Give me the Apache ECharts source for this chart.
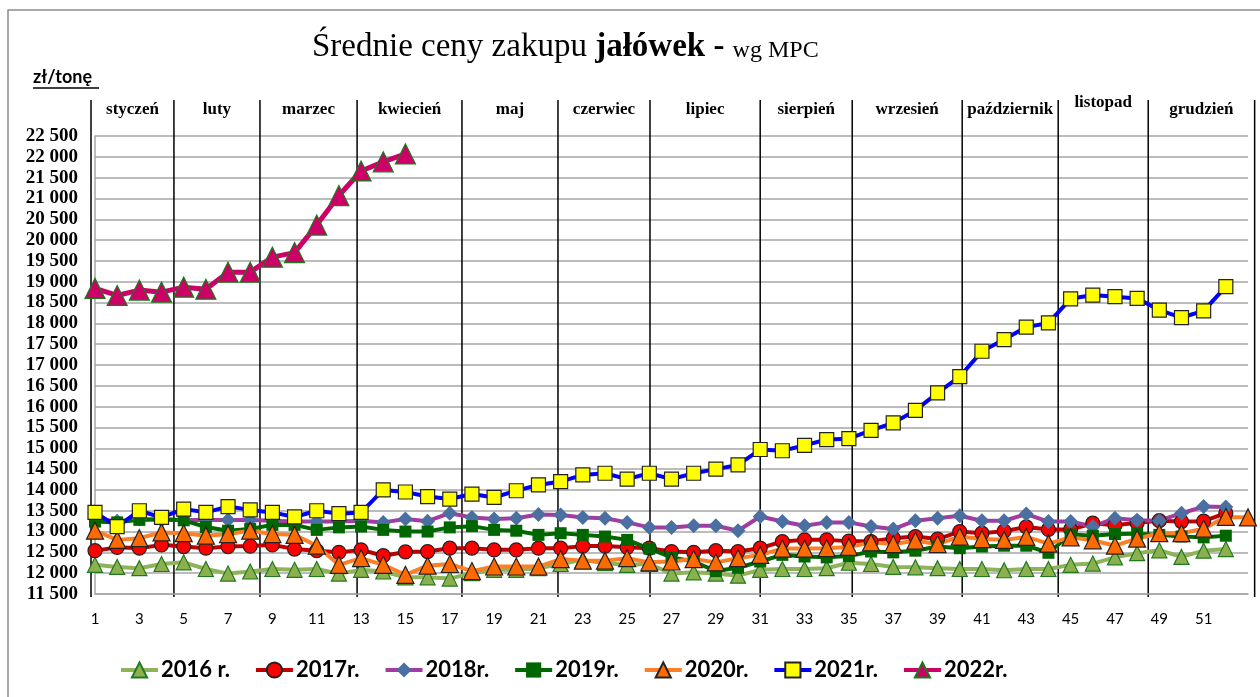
<!DOCTYPE html>
<html>
<head>
<meta charset="utf-8">
<script src="https://cdn.jsdelivr.net/npm/echarts@6/dist/echarts.min.js"></script>
<style>
  html, body { margin: 0; padding: 0; background: #fff; }
  #chart { width: 1260px; height: 697px; }
</style>
</head>
<body>
<div id="chart"></div>
<script>
// tygodnie 1..53
var weeks = [1, 2, 3, 4, 5, 6, 7, 8, 9, 10, 11, 12, 13, 14, 15, 16, 17, 18, 19, 20,
  21, 22, 23, 24, 25, 26, 27, 28, 29, 30, 31, 32, 33, 34, 35, 36, 37, 38, 39, 40,
  41, 42, 43, 44, 45, 46, 47, 48, 49, 50, 51, 52, 53]

var s2016 = [12200, 12150, 12120, 12220, 12260, 12100, 11990, 12040, 12100, 12080,
  12100, 11990, 12080, 12040, 11900, 11900, 11870, 12000, 12080, 12080,
  12120, 12220, 12320, 12240, 12200, 12220, 11990, 12020, 11990, 11940,
  12080, 12100, 12100, 12120, 12250, 12220, 12150, 12140, 12120, 12100,
  12100, 12070, 12100, 12100, 12200, 12230, 12380, 12480, 12550, 12390,
  12540, 12580]
var s2017 = [12540, 12620, 12600, 12680, 12640, 12600, 12640, 12650, 12680, 12580,
  12540, 12500, 12560, 12420, 12510, 12520, 12600, 12600, 12560, 12560,
  12600, 12600, 12650, 12650, 12620, 12600, 12520, 12500, 12540, 12520,
  12600, 12760, 12800, 12800, 12770, 12760, 12840, 12880, 12820, 13000,
  12960, 13010, 13110, 13050, 13050, 13200, 13150, 13210, 13260, 13240,
  13250, 13440]
var s2018 = [13300, 13250, 13300, 13280, 13280, 13280, 13280, 13280, 13260, 13240,
  13240, 13240, 13260, 13220, 13300, 13250, 13440, 13340, 13300, 13320,
  13410, 13400, 13340, 13320, 13220, 13100, 13100, 13140, 13140, 13020,
  13360, 13240, 13140, 13220, 13220, 13120, 13060, 13260, 13320, 13380,
  13260, 13260, 13420, 13240, 13240, 13120, 13320, 13270, 13260, 13440,
  13600, 13590]
var s2019 = [13240, 13220, 13280, 13300, 13270, 13110, 13020, 13060, 13160, 13160,
  13040, 13100, 13120, 13040, 13000, 13000, 13100, 13130, 13040, 13020,
  12920, 12960, 12920, 12880, 12800, 12590, 12380, 12280, 12050, 12130,
  12280, 12440, 12400, 12380, 12410, 12520, 12500, 12540, 12640, 12600,
  12640, 12660, 12660, 12490, 12930, 12900, 12940, 12950, 12920, 12880,
  12860, 12900]
var s2020 = [13020, 12800, 12840, 12980, 12960, 12900, 12940, 13020, 12940, 12920,
  12660, 12200, 12360, 12200, 11960, 12180, 12220, 12050, 12160, 12160,
  12160, 12340, 12300, 12300, 12360, 12260, 12280, 12340, 12260, 12360,
  12440, 12590, 12590, 12600, 12630, 12740, 12700, 12780, 12700, 12880,
  12820, 12800, 12870, 12710, 12860, 12790, 12660, 12830, 12960, 12960,
  13070, 13350, 13340]
var s2021 = [13460, 13120, 13500, 13340, 13540, 13460, 13600, 13520, 13460, 13350,
  13500, 13430, 13460, 14000, 13950, 13840, 13780, 13900, 13820, 13980,
  14120, 14200, 14360, 14400, 14260, 14400, 14260, 14400, 14500, 14600,
  14970, 14940, 15070, 15210, 15230, 15430, 15610, 15910, 16330, 16720,
  17330, 17610, 17910, 18010, 18590, 18680, 18640, 18600, 18320, 18140,
  18300, 18880]
var s2022 = [18840, 18670, 18800, 18750, 18870, 18820, 19230, 19230, 19590, 19700,
  20360, 21070, 21660, 21880, 22070]

var months = ['styczeń', 'luty', 'marzec', 'kwiecień', 'maj', 'czerwiec', 'lipiec',
  'sierpień', 'wrzesień', 'październik', 'listopad', 'grudzień']
// granice miesięcy w jednostkach tygodni
var monthEdges = [0.82, 4.56, 8.44, 12.82, 17.55, 21.88, 26.03, 31.0, 35.15, 40.11, 44.44, 48.5, 53.3]

var yMin = 11500
var yMax = 22500
var yStep = 500

function pairs (arr) {
  return arr.map(function (v, i) { return [weeks[i], v] })
}

function fmtThousands (v) {
  return String(v).replace(/\B(?=(\d{3})+(?!\d))/g, ' ')
}

var chart = echarts.init(document.getElementById('chart'))

function lineSeries (name, data, lineColor, symbol, size, fill, border, width) {
  return {
    name: name,
    type: 'line',
    data: pairs(data),
    symbol: symbol,
    symbolSize: size,
    lineStyle: { color: lineColor, width: width || 4 },
    itemStyle: { color: fill, borderColor: border, borderWidth: border ? 1.2 : 0 },
    emphasis: { disabled: true }
  }
}

var option = {
  animation: false,
  backgroundColor: '#fff',
  title: {
    text: '{a|Średnie ceny zakupu }{b|jałówek}{b| - }{c|wg MPC}',
    left: 307,
    top: 26,
    textStyle: {
      rich: {
        a: { fontFamily: 'Liberation Serif', fontSize: 33, fontWeight: 'normal', color: '#000' },
        b: { fontFamily: 'Liberation Serif', fontSize: 33, fontWeight: 'bold', color: '#000' },
        c: { fontFamily: 'Liberation Serif', fontSize: 24, fontWeight: 'normal', color: '#000', padding: [6, 0, 0, 0] }
      }
    }
  },
  grid: { left: 95, right: 12, top: 136, bottom: 103 },
  legend: {
    left: 114,
    top: 654,
    itemWidth: 37,
    itemHeight: 19,
    itemGap: 24,
    selectedMode: false,
    lineStyle: { width: 4 },
    textStyle: { fontFamily: 'Lato', fontWeight: 'bold', fontSize: 22, color: '#000', padding: [0, 0, 0, -2] },
    data: ['2016 r.', '2017r.', '2018r.', '2019r.', '2020r.', '2021r.', '2022r.']
  },
  xAxis: {
    type: 'value',
    min: 1,
    max: 53,
    interval: 2,
    axisLine: { show: true, lineStyle: { color: '#a6a6a6', width: 1.5 } },
    axisTick: { show: false },
    splitLine: { show: false },
    axisLabel: {
      margin: 18,
      fontFamily: 'Lato',
      fontSize: 15,
      color: '#000',
      formatter: function (v) { return v > 51 ? '' : String(v) }
    }
  },
  yAxis: {
    type: 'value',
    min: yMin,
    max: yMax,
    interval: yStep,
    axisLine: { show: true, lineStyle: { color: '#a6a6a6', width: 1.5 } },
    axisTick: { show: false },
    splitLine: { lineStyle: { color: '#a6a6a6', width: 1.5 } },
    axisLabel: {
      margin: 17,
      fontFamily: 'Liberation Serif',
      fontWeight: 'bold',
      fontSize: 19,
      color: '#000',
      formatter: fmtThousands
    }
  },
  series: [
    lineSeries('2016 r.', s2016, '#8fb35a', 'triangle', 15, '#8db04f', '#1f7a1f'),
    lineSeries('2017r.', s2017, '#c00000', 'circle', 14, '#ff0000', '#222'),
    lineSeries('2018r.', s2018, '#a23ca0', 'diamond', 15, '#4a6fa0', null),
    lineSeries('2019r.', s2019, '#006600', 'rect', 12, '#006600', null),
    lineSeries('2020r.', s2020, '#ff7f27', 'triangle', 17, '#ff6a00', '#222'),
    lineSeries('2021r.', s2021, '#0000ff', 'rect', 14, '#ffff00', '#222'),
    lineSeries('2022r.', s2022, '#cc0066', 'triangle', 20, '#cc0066', '#1a7a1a', 5)
  ]
}

chart.setOption(option)

// separatory miesięcy, podpisy miesięcy, ramka, jednostka
var graphics = []
graphics.push({
  type: 'rect',
  shape: { x: 8, y: 10, width: 1300, height: 720 },
  style: { fill: 'none', stroke: '#8c8c8c', lineWidth: 1.5 },
  silent: true
})
var topY = 100
var bottomY = chart.convertToPixel({ gridIndex: 0 }, [1, yMin])[1] + 3
monthEdges.forEach(function (w) {
  var px = chart.convertToPixel({ gridIndex: 0 }, [w, yMin])[0]
  graphics.push({
    type: 'line',
    shape: { x1: px, y1: topY, x2: px, y2: bottomY },
    style: { stroke: '#000', lineWidth: 1.5 },
    silent: true
  })
})
months.forEach(function (m, i) {
  var a = chart.convertToPixel({ gridIndex: 0 }, [monthEdges[i], yMin])[0]
  var b = chart.convertToPixel({ gridIndex: 0 }, [monthEdges[i + 1], yMin])[0]
  graphics.push({
    type: 'text',
    x: (a + b) / 2,
    y: m === 'listopad' ? 103 : 110,
    style: {
      text: m,
      fontFamily: 'Liberation Serif',
      fontWeight: 'bold',
      fontSize: 17,
      fill: '#000',
      align: 'center',
      verticalAlign: 'middle'
    },
    silent: true
  })
})
graphics.push({
  type: 'text',
  x: 33,
  y: 77,
  style: {
    text: 'zł/tonę',
    fontFamily: 'Lato',
    fontWeight: 'bold',
    fontSize: 18,
    fill: '#000',
    align: 'left',
    verticalAlign: 'middle'
  },
  silent: true
})
graphics.push({
  type: 'line',
  shape: { x1: 33, y1: 88, x2: 99, y2: 88 },
  style: { stroke: '#000', lineWidth: 1.5 },
  silent: true
})
chart.setOption({ graphic: graphics })
</script>
</body>
</html>
